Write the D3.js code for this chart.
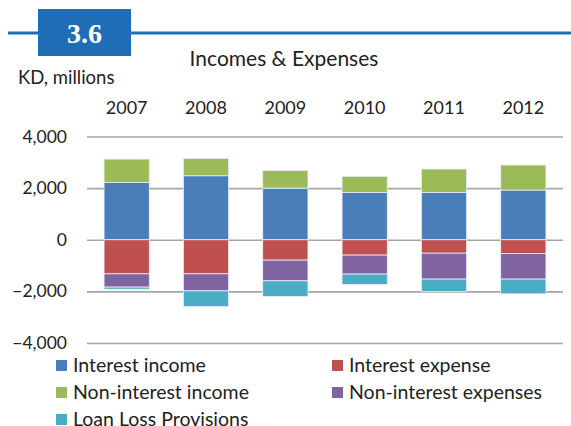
<!DOCTYPE html>
<html>
<head>
<meta charset="UTF-8">
<title>Incomes & Expenses</title>
<script src="https://cdn.jsdelivr.net/npm/d3@7"></script>
<style>
  body { margin: 0; background: #fff; }
  text { font-family: Lato, "Open Sans", sans-serif; fill: #222; }
</style>
</head>
<body>
<div id="chart"></div>
<script>

// data
var years = ["2007", "2008", "2009", "2010", "2011", "2012"]
var interestIncome    = [2220, 2480, 2000, 1835, 1835, 1925]
var nonInterestIncome = [ 905,  670,  685,  620,  905,  970]
var interestExpense   = [-1320, -1320, -790, -595, -520, -530]
var nonInterestExp    = [ -515,  -660, -800, -735, -1005, -995]
var loanLoss          = [  -80,  -605, -605, -400, -480, -570]
var yTicks = [4000, 2000, 0, -2000, -4000]

var seriesNames = ["Interest income", "Interest expense", "Non-interest income",
                   "Non-interest expenses", "Loan Loss Provisions"]
var colors = ["#4a7ebb", "#c0504d", "#9bbb59", "#8064a2", "#4bacc6"]

var width = 571, height = 426

var svg = d3.select("#chart").append("svg")
  .attr("width", width)
  .attr("height", height)

// header band
svg.append("line")
  .attr("x1", 8).attr("x2", width)
  .attr("y1", 33).attr("y2", 33)
  .attr("stroke", "#1f6db5").attr("stroke-width", 3)
svg.append("rect")
  .attr("x", 38).attr("y", 9).attr("width", 93).attr("height", 47)
  .attr("fill", "#1f6db5")
svg.append("text")
  .attr("x", 84.5).attr("y", 43)
  .attr("text-anchor", "middle")
  .style("font-family", "'Liberation Serif', serif")
  .style("font-weight", "bold")
  .style("font-size", "28px")
  .style("fill", "#fff")
  .text("3.6")

svg.append("text")
  .attr("x", 284).attr("y", 66)
  .attr("text-anchor", "middle")
  .style("font-size", "21px")
  .text("Incomes & Expenses")

svg.append("text")
  .attr("x", 18).attr("y", 84)
  .style("font-size", "18.5px")
  .text("KD, millions")

// scales
var x = d3.scaleBand().domain(years).range([87, 563]).paddingInner(0.43).paddingOuter(0.215)
var y = d3.scaleLinear().domain([-4000, 4000]).range([343, 136.5])

// year labels along top
svg.append("g").selectAll("text")
  .data(years).enter()
  .append("text")
  .attr("x", function(d) { return x(d) + x.bandwidth() / 2; })
  .attr("y", 114)
  .attr("text-anchor", "middle")
  .style("font-size", "18px")
  .text(function(d) { return d; })

// y axis with gridlines
var yAxis = svg.append("g")
  .attr("transform", "translate(87,0)")
  .call(d3.axisLeft(y).tickValues(yTicks).tickSize(-476).tickPadding(20)
        .tickFormat(d3.format(",")))
yAxis.select(".domain").remove()
yAxis.selectAll("line").attr("stroke", "#a6a6a6").attr("stroke-width", 1.6)
yAxis.selectAll("text")
  .style("font-family", "Lato, 'Open Sans', sans-serif")
  .style("font-size", "17.5px")
  .attr("fill", "#222")

// stacked bars: positives upward, negatives downward
var table = years.map(function(yr, i) {
  return { year: yr, s0: interestIncome[i], s1: interestExpense[i], s2: nonInterestIncome[i],
           s3: nonInterestExp[i], s4: loanLoss[i] }
})
var keys = ["s0", "s1", "s2", "s3", "s4"]
var stacked = d3.stack().keys(keys).offset(d3.stackOffsetDiverging)(table)

svg.append("g").selectAll("g")
  .data(stacked).enter()
  .append("g")
  .attr("fill", function(d, i) { return colors[i]; })
  .selectAll("rect")
  .data(function(d) { return d; }).enter()
  .append("rect")
  .attr("x", function(d) { return x(d.data.year); })
  .attr("width", x.bandwidth())
  .attr("y", function(d) { return y(Math.max(d[0], d[1])); })
  .attr("height", function(d) { return Math.abs(y(d[0]) - y(d[1])); })
  .attr("stroke", "#e8eef6")
  .attr("stroke-width", 0.8)

// legend
var legendPos = [[56, 360], [332, 360], [56, 387], [332, 387], [56, 414]]
var legend = svg.append("g").selectAll("g")
  .data(seriesNames).enter()
  .append("g")
  .attr("transform", function(d, i) { return "translate(" + legendPos[i][0] + "," + legendPos[i][1] + ")"; })
legend.append("rect")
  .attr("x", 0).attr("y", 0).attr("width", 11).attr("height", 11)
  .attr("fill", function(d, i) { return colors[i]; })
legend.append("text")
  .attr("x", 17).attr("y", 11.5)
  .style("font-size", "19.5px")
  .text(function(d) { return d; })

</script>
</body>
</html>
